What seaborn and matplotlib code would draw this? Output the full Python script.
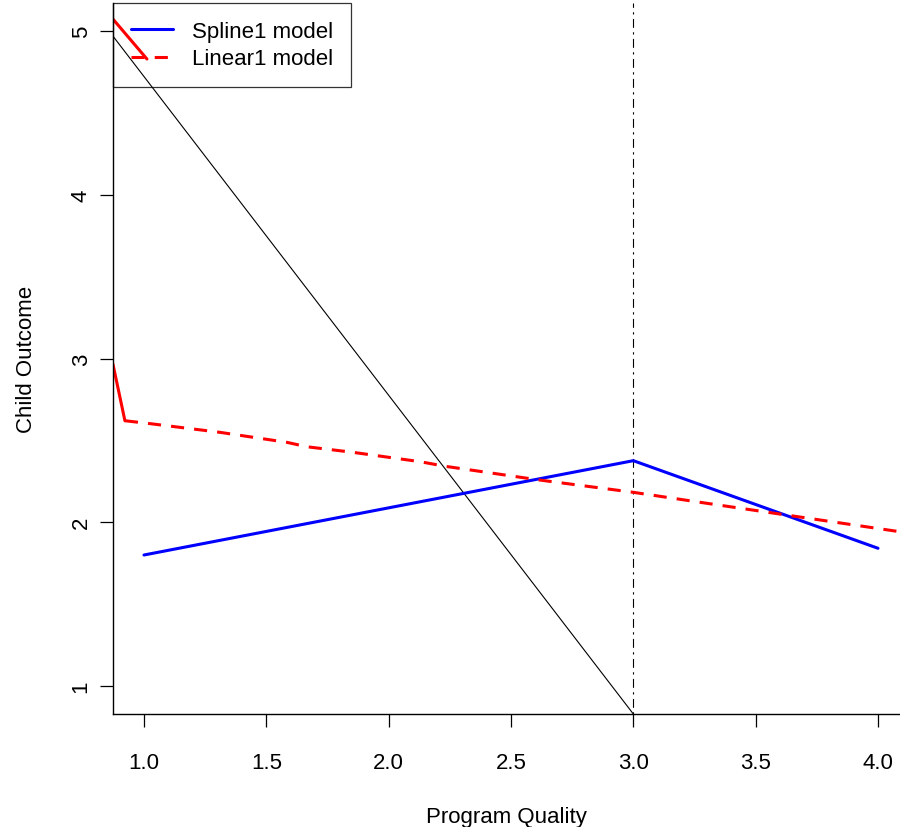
import matplotlib
matplotlib.use("Agg")
import matplotlib.pyplot as plt
import seaborn as sns
from matplotlib.lines import Line2D

sns.set_style("white")
plt.rcParams['font.family'] = ['Liberation Sans', 'DejaVu Sans']
plt.rcParams['text.color'] = 'black'
plt.rcParams['axes.labelcolor'] = 'black'
plt.rcParams['xtick.color'] = 'black'
plt.rcParams['ytick.color'] = 'black'

# ---- data ----
spline_x = [1.0, 3.0, 4.0]
spline_y = [1.80, 2.376, 1.841]

linear_x = [0.922, 1.037, 1.311, 1.584, 1.666, 1.854, 2.128, 2.230, 2.606, 2.999, 3.272, 3.599, 4.09]
linear_y = [2.620, 2.600, 2.549, 2.488, 2.461, 2.427, 2.370, 2.342, 2.260, 2.183, 2.122, 2.050, 1.942]

red_seg1_x = [0.873, 0.922]
red_seg1_y = [2.966, 2.620]
red_seg2_x = [0.873, 1.012]
red_seg2_y = [5.073, 4.829]

black_x = [0.873, 3.0]
black_y = [4.969, 0.829]

knot = 3.0

x_ticks = [1.0, 1.5, 2.0, 2.5, 3.0, 3.5, 4.0]
x_tick_labels = ["1.0", "1.5", "2.0", "2.5", "3.0", "3.5", "4.0"]
y_ticks = [1, 2, 3, 4, 5]
y_tick_labels = ["1", "2", "3", "4", "5"]

legend_labels = ["Spline1 model", "Linear1 model"]

# ---- figure ----
fig = plt.figure(figsize=(9, 8.28), dpi=100)
ax = fig.add_axes([113 / 900, (828 - 715) / 828, (900 - 113) / 900, (715 - 4) / 828])

lw_thick = 2.2
dash = (0, (4.3, 3.3))

sns.lineplot(x=black_x, y=black_y, ax=ax, color="black", linewidth=0.8, sort=False)
ax.axvline(knot, color="black", linewidth=0.8, linestyle=(0, (2, 4, 8, 4)))
sns.lineplot(x=spline_x, y=spline_y, ax=ax, color="#0000FF", linewidth=lw_thick, sort=False)
sns.lineplot(x=linear_x, y=linear_y, ax=ax, color="#FF0000", linewidth=lw_thick,
             linestyle=dash, sort=False)
sns.lineplot(x=red_seg1_x, y=red_seg1_y, ax=ax, color="#FF0000", linewidth=lw_thick, sort=False)
sns.lineplot(x=red_seg2_x, y=red_seg2_y, ax=ax, color="#FF0000", linewidth=lw_thick, sort=False)

ax.set_xlim(0.8733, 4.0899)
ax.set_ylim(0.829, 5.171)

ax.set_xticks(x_ticks)
ax.set_xticklabels(x_tick_labels)
ax.set_yticks(y_ticks)
ax.set_yticklabels(y_tick_labels)
for lab in ax.get_yticklabels():
    lab.set_rotation(90)
    lab.set_va("center")

ax.tick_params(axis="both", direction="out", length=9.4, width=0.9, labelsize=16,
               colors="black", left=True, bottom=True)
ax.tick_params(axis="x", pad=18)
ax.tick_params(axis="y", pad=6)

for s in ["top", "right"]:
    ax.spines[s].set_visible(False)
for s in ["left", "bottom"]:
    ax.spines[s].set_color("black")
    ax.spines[s].set_linewidth(1.0)

ax.set_xlabel("Program Quality", fontsize=16, labelpad=24, color="black")
ax.set_ylabel("Child Outcome", fontsize=16, labelpad=24, color="black")

handles = [Line2D([], [], color="#0000FF", linewidth=lw_thick),
           Line2D([], [], color="#FF0000", linewidth=lw_thick, linestyle=dash)]
leg = ax.legend(handles, legend_labels, loc="upper left", bbox_to_anchor=(0, 1),
                borderaxespad=0, fontsize=16, frameon=True, fancybox=False,
                edgecolor="black", facecolor="none", framealpha=None,
                handlelength=1.9, handletextpad=0.85, borderpad=0.8,
                labelspacing=0.3)
leg.get_frame().set_linewidth(0.9)
for t in leg.get_texts():
    t.set_color("black")

fig.savefig("out.png", dpi=100, facecolor="white")
